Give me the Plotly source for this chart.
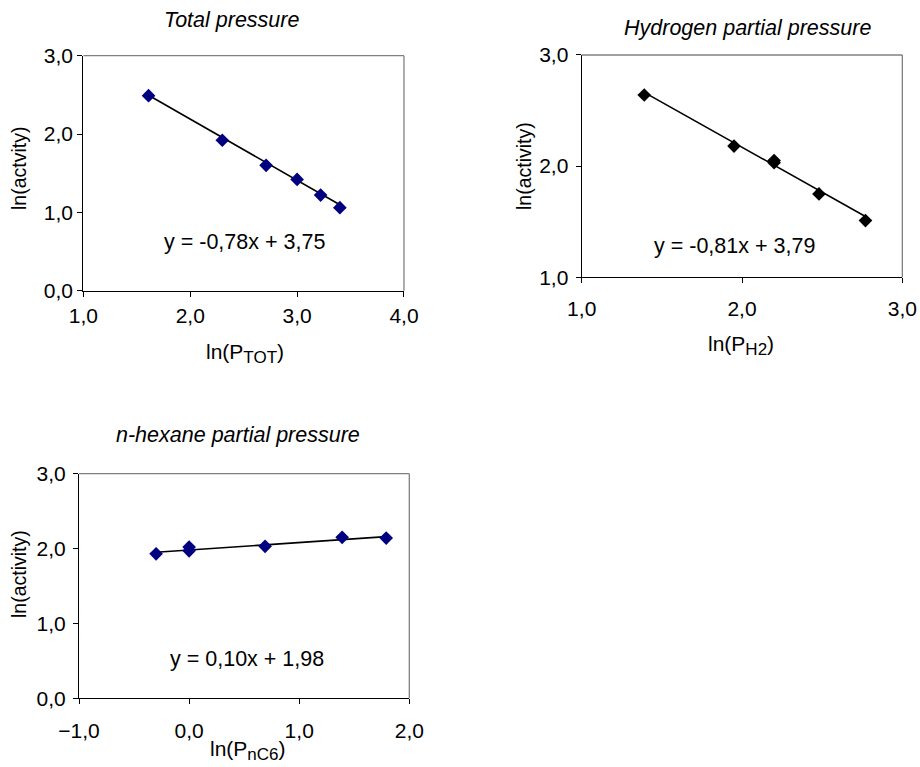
import plotly.graph_objects as go

# Total pressure series
tot_x = [1.61, 2.30, 2.71, 3.00, 3.22, 3.40]
tot_y = [2.49, 1.92, 1.60, 1.42, 1.22, 1.06]
tot_fit = (-0.78, 3.75)

# Hydrogen partial pressure series
h2_x = [1.39, 1.95, 2.20, 2.20, 2.48, 2.77]
h2_y = [2.64, 2.18, 2.03, 2.05, 1.75, 1.51]
h2_fit = (-0.81, 3.79)

# n-hexane partial pressure series
c6_x = [-0.30, 0.00, 0.00, 0.69, 1.39, 1.79]
c6_y = [1.93, 2.02, 1.97, 2.03, 2.15, 2.14]
c6_fit = (0.10, 1.98)

FONT = "Liberation Sans, Arial, sans-serif"
NAVY = "#000080"
FS = 21

fig = go.Figure()

panels = [
    dict(x=tot_x, y=tot_y, fit=tot_fit, color=NAVY, xa="x", ya="y",
         xr=[1, 4], yr=[0, 3], xso=1, yso=0,
         dom_x=[0.0906, 0.4391], dom_y=[0.6210, 0.9274]),
    dict(x=h2_x, y=h2_y, fit=h2_fit, color="black", xa="x2", ya="y2",
         xr=[1, 3], yr=[1, 3], xso=7, yso=3,
         dom_x=[0.6323, 0.9808], dom_y=[0.6385, 0.9283]),
    dict(x=c6_x, y=c6_y, fit=c6_fit, color=NAVY, xa="x3", ya="y3",
         xr=[-1, 2], yr=[0, 3], xso=8, yso=3,
         dom_x=[0.0859, 0.4449], dom_y=[0.0896, 0.3824]),
]

for i, p in enumerate(panels):
    m, b = p["fit"]
    x0, x1 = min(p["x"]), max(p["x"])
    fig.add_trace(go.Scatter(
        x=[x0, x1], y=[m * x0 + b, m * x1 + b], mode="lines",
        line=dict(color="black", width=1.6), xaxis=p["xa"], yaxis=p["ya"],
        showlegend=False, hoverinfo="skip"))
    fig.add_trace(go.Scatter(
        x=p["x"], y=p["y"], mode="markers",
        marker=dict(symbol="diamond", size=10.5, color=p["color"],
                    line=dict(width=0)),
        xaxis=p["xa"], yaxis=p["ya"], showlegend=False))

    suffix = "" if i == 0 else str(i + 1)
    axis_common = dict(showgrid=False, zeroline=False, showline=True,
                       linecolor="black", linewidth=1.3, ticks="outside",
                       ticklen=5, tickcolor="black", tickwidth=1,
                       tickformat=".1f", automargin=False,
                       tickfont=dict(family=FONT, size=FS, color="black"))
    fig.layout["xaxis" + suffix] = dict(
        axis_common, domain=p["dom_x"], range=p["xr"], dtick=1,
        tick0=0, anchor="y" + suffix, ticklabelstandoff=p["xso"])
    fig.layout["yaxis" + suffix] = dict(
        axis_common, domain=p["dom_y"], range=p["yr"], dtick=1,
        tick0=0, anchor="x" + suffix, ticklabelstandoff=p["yso"])

    # grey plot-area frame along the top and right edges
    fig.add_shape(type="line", xref=p["xa"] + " domain", yref=p["ya"] + " domain",
                  x0=0, x1=1, y0=1, y1=1, line=dict(color="#808080", width=1.3))
    fig.add_shape(type="line", xref=p["xa"] + " domain", yref=p["ya"] + " domain",
                  x0=1, x1=1, y0=0, y1=1, line=dict(color="#808080", width=1.3))

# trend-line equations
eqs = [("x", "y", 2.51, 0.62, tot_fit), ("x2", "y2", 1.95, 1.28, h2_fit),
       ("x3", "y3", 0.53, 0.53, c6_fit)]
for xa, ya, ex, ey, (m, b) in eqs:
    sign = "+" if b >= 0 else "-"
    txt = f"y = {m:.2f}x {sign} {abs(b):.2f}".replace(".", ",")
    fig.add_annotation(x=ex, y=ey, xref=xa, yref=ya, text=txt, showarrow=False,
                       font=dict(family=FONT, size=21.5, color="black"))

W, H = 920, 767
def ann(px, py, text, size=FS, italic=False, angle=0):
    fig.add_annotation(x=px / W, y=1 - py / H, xref="paper", yref="paper",
                       text=f"<i>{text}</i>" if italic else text,
                       showarrow=False, textangle=angle,
                       font=dict(family=FONT, size=size, color="black"),
                       xanchor="center", yanchor="middle")

def sub(s):
    return f"<sub><span style='font-size:17px'>{s}</span></sub>"

# panel titles
ann(231, 20, "Total pressure", size=21.5, italic=True)
ann(747, 28, "Hydrogen partial pressure", size=21.5, italic=True)
ann(238, 435, "n-hexane partial pressure", size=21.5, italic=True)

# axis titles
ann(245, 353, "ln(P" + sub("TOT") + ")")
ann(741, 345, "ln(P" + sub("H2") + ")")
ann(248, 750, "ln(P" + sub("nC6") + ")")
ann(19, 169, "ln(actvity)", size=19.5, angle=-90)
ann(524, 166, "ln(activity)", size=19.5, angle=-90)
ann(19, 574, "ln(activity)", size=19.5, angle=-90)

fig.update_layout(
    width=W, height=H, margin=dict(l=0, r=0, t=0, b=0, autoexpand=False),
    paper_bgcolor="white", plot_bgcolor="white",
    separators=", ", showlegend=False,
    font=dict(family=FONT, color="black"),
)

fig.write_html("out.html")
